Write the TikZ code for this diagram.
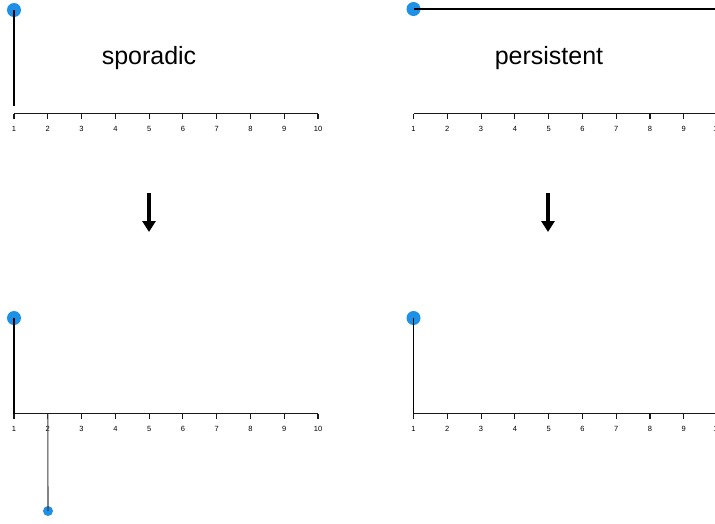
\documentclass[tikz,border=0pt]{standalone}
\usepackage{fontspec}
\setmainfont{Liberation Sans}
\usetikzlibrary{arrows.meta}
\definecolor{dotblue}{RGB}{30,144,229}
\tikzset{
  dot/.style={circle,fill=dotblue,inner sep=0pt,minimum size=14pt},
  smalldot/.style={circle,fill=dotblue,inner sep=0pt,minimum size=10pt},
  axisline/.style={line width=1.1pt,black!90},
  stem/.style={line width=1.1pt,black},
  ticklbl/.style={font=\fontsize{7.5}{8}\selectfont,anchor=base,inner sep=0pt},
  titlelbl/.style={font=\fontsize{25}{28}\selectfont,anchor=base,inner sep=0pt},
  bigarrow/.style={line width=4pt,-{Triangle[width=13pt,length=11pt]}}
}
\newcommand{\myaxis}[2]{% #1 = x of tick 1, #2 = y of axis
  \foreach \i in {1,...,10}{
    \pgfmathsetmacro{\tx}{#1+(\i-1)*33.78}
    \coordinate (t\i) at (\tx,#2);
    \draw[axisline] (t\i) -- ++(0,5);
    \node[ticklbl] (l\i) at (\tx,#2+17.5) {\i};
  }
}
\begin{document}
\begin{tikzpicture}[x=1pt,y=-1pt]
\useasboundingbox (0,0) rectangle (715,523);
% top-left: sporadic
\begin{scope}
  \myaxis{14}{113.5}
  \draw[axisline] (t1) -- (t10);
\end{scope}
\node[titlelbl] (tsp) at (149,64.5) {sporadic};
\node[dot] (d1) at (14,10) {};
\coordinate (s1) at (14,106);
\draw[stem] (d1.center) -- (s1);
% top-right: persistent
\begin{scope}
  \myaxis{413.5}{113.5}
  \coordinate (r2) at (715,113.5);
  \draw[axisline] (t1) -- (r2);
\end{scope}
\node[titlelbl] (tpe) at (549,64.5) {persistent};
\node[dot] (d2) at (413.5,9) {};
\coordinate (e2) at (715,9);
\draw[stem] (d2.center) -- (e2);
% arrows
\coordinate (a1s) at (149,193);
\coordinate (a1e) at (149,232);
\draw[bigarrow] (a1s) -- (a1e);
\coordinate (a2s) at (548,193);
\coordinate (a2e) at (548,232);
\draw[bigarrow] (a2s) -- (a2e);
% bottom-left
\begin{scope}
  \myaxis{14}{413.5}
  \draw[axisline] (t1) -- (t10);
\end{scope}
\node[dot] (d3) at (14,318) {};
\coordinate (s3) at (14,413.5);
\draw[stem] (d3.center) -- (s3);
\node[smalldot] (d4) at (48,511) {};
\coordinate (s4) at (47.8,413.5);
\draw[stem,black!75] (s4) -- (d4.center);
% bottom-right
\begin{scope}
  \myaxis{413.5}{413.5}
  \coordinate (r4) at (715,413.5);
  \draw[axisline] (t1) -- (r4);
\end{scope}
\node[dot] (d5) at (413.5,318) {};
\coordinate (s5) at (413.5,413.5);
\draw[stem] (d5.center) -- (s5);
\end{tikzpicture}
\end{document}
